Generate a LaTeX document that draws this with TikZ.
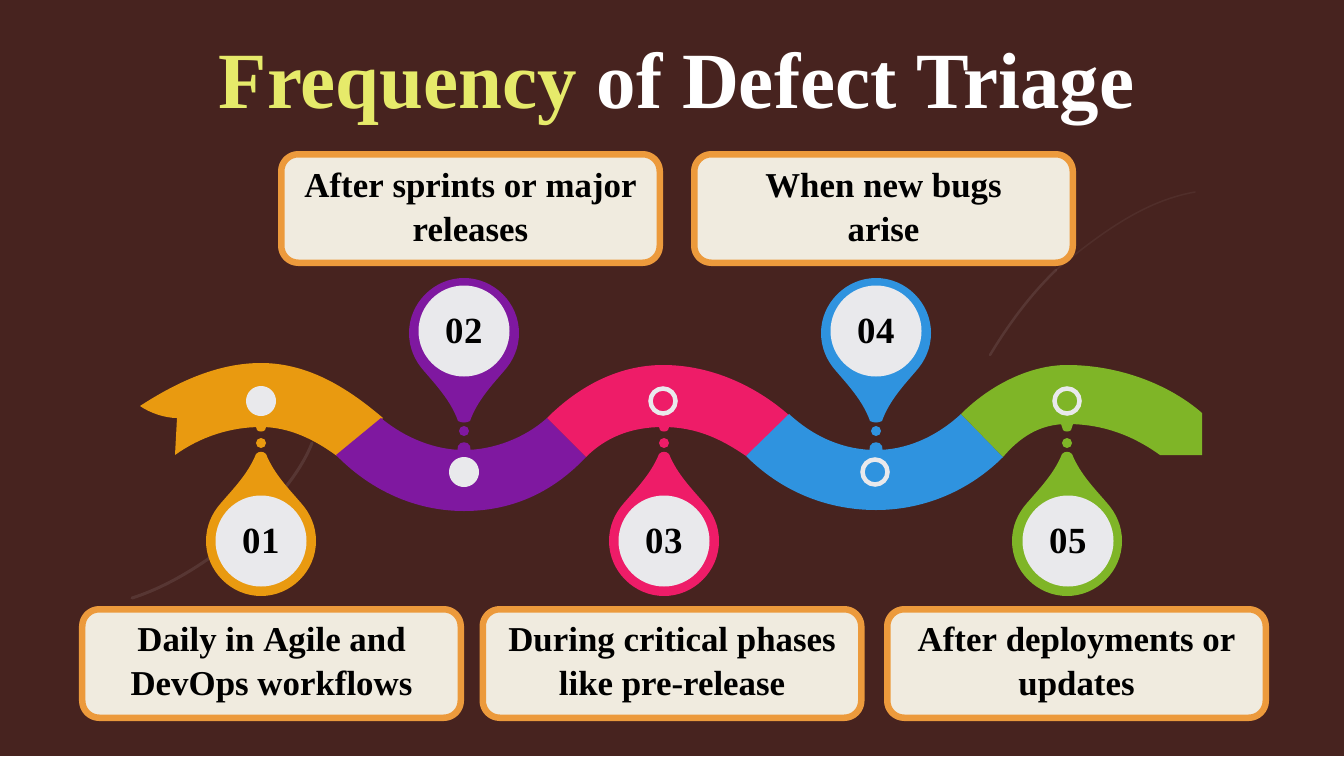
\documentclass[tikz,border=0pt]{standalone}
\usepackage{fontspec}
\setmainfont{Liberation Serif}
\newfontfamily\titlefont[FakeStretch=0.99]{Liberation Serif}
\definecolor{bgc}{HTML}{47231F}
\definecolor{orangeC}{HTML}{E99A10}
\definecolor{purpleC}{HTML}{7F18A0}
\definecolor{pinkC}{HTML}{EE1C68}
\definecolor{blueC}{HTML}{2F93DF}
\definecolor{greenC}{HTML}{7FB527}
\definecolor{diskC}{HTML}{E9E9EC}
\definecolor{boxC}{HTML}{F0EBDF}
\definecolor{edgeC}{HTML}{EC9A3C}
\definecolor{titleY}{HTML}{E6EA6A}
\tikzset{
  x=1bp,y=-1bp,
  infobox/.style={draw=edgeC,line width=6.5bp,fill=boxC,rounded corners=17bp,minimum width=378.5bp,minimum height=108.5bp,inner sep=0pt},
  boxtext/.style={inner sep=0pt,align=center,font=\fontsize{35}{44}\selectfont\bfseries,text=black},
  numdisk/.style={circle,fill=diskC,minimum size=91bp,inner sep=0pt,font=\fontsize{37}{37}\selectfont\bfseries,text=black},
  streak/.style={draw=white,opacity=.09,line cap=round}
}
\begin{document}
\begin{tikzpicture}
\useasboundingbox (0,0) rectangle (1344,756);
\fill[bgc] (0,0) rectangle (1344,756);
% faint background streaks
\draw[streak,line width=3bp] (132,598) .. controls (205,575) and (290,500) .. (312,443);
\draw[streak,line width=2.5bp] (990,355) .. controls (1008,325) and (1030,295) .. (1056,270);
\draw[streak,line width=1.5bp,opacity=.05] (1056,270) .. controls (1110,225) and (1150,200) .. (1195,192);

% ribbon
\fill[orangeC] (140,406) .. controls (180,380) and (220,363) .. (261,363)
  .. controls (310,363) and (350,390) .. (383,418)
  -- (337,456) .. controls (315,440) and (290,427) .. (261,427)
  .. controls (230,427) and (200,437) .. (175,455)
  -- (177,418) .. controls (165,418) and (150,413) .. (140,406) -- cycle;
\fill[purpleC] (381,418) .. controls (405,438) and (435,450) .. (464,450)
  .. controls (493,450) and (525,438) .. (547,418)
  -- (586,457) .. controls (555,490) and (515,511) .. (464,511)
  .. controls (415,511) and (370,490) .. (336,455) -- cycle;
\fill[pinkC] (547,418) .. controls (580,385) and (620,365) .. (663,365)
  .. controls (710,365) and (755,385) .. (790,416)
  -- (746,456) .. controls (720,438) and (695,427) .. (663,427)
  .. controls (630,427) and (605,438) .. (586,457) -- cycle;
\fill[blueC] (789,414) .. controls (815,438) and (845,450) .. (876,450)
  .. controls (905,450) and (935,438) .. (961,414)
  -- (1003,457) .. controls (970,490) and (925,510) .. (876,510)
  .. controls (825,510) and (780,490) .. (746,456) -- cycle;
\fill[greenC] (961,414) .. controls (990,385) and (1030,365) .. (1067,365)
  .. controls (1120,365) and (1170,385) .. (1202,413)
  -- (1202,455) -- (1160,455)
  .. controls (1135,437) and (1105,424) .. (1067,424)
  .. controls (1040,424) and (1020,437) .. (1003,457) -- cycle;

% lower pins
\foreach \px/\pc in {261/orangeC,664/pinkC,1067/greenC}{
  \fill[\pc] (\px-5,454) .. controls (\px-2,451) and (\px+2,451) .. (\px+5,454)
    .. controls (\px+13,474) and (\px+28,489) .. (\px+40,503)
    .. controls (\px+49,513) and (\px+55,526) .. (\px+55,541)
    .. controls (\px+55,571) and (\px+30,596) .. (\px,596)
    .. controls (\px-30,596) and (\px-55,571) .. (\px-55,541)
    .. controls (\px-55,526) and (\px-49,513) .. (\px-40,503)
    .. controls (\px-28,489) and (\px-13,474) .. (\px-5,454) -- cycle;
  \fill[\pc] (\px,443) circle[radius=5bp];
  \fill[\pc] (\px-6,424) -- (\px+6,424) -- (\px+4,430) .. controls (\px+3,432) and (\px-3,432) .. (\px-4,430) -- cycle;
}
% upper pins
\foreach \px/\pc in {464/purpleC,876/blueC}{
  \fill[\pc] (\px-6,421) .. controls (\px-2,423) and (\px+2,423) .. (\px+6,421)
    .. controls (\px+13,401) and (\px+28,385) .. (\px+40,371)
    .. controls (\px+49,361) and (\px+55,348) .. (\px+55,333)
    .. controls (\px+55,303) and (\px+30,278) .. (\px,278)
    .. controls (\px-30,278) and (\px-55,303) .. (\px-55,333)
    .. controls (\px-55,348) and (\px-49,361) .. (\px-40,371)
    .. controls (\px-28,385) and (\px-13,401) .. (\px-6,421) -- cycle;
  \fill[\pc] (\px,431) circle[radius=5bp];
  \fill[\pc] (\px-7,453) -- (\px-6,446) .. controls (\px-4,441) and (\px+4,441) .. (\px+6,446) -- (\px+7,453) -- cycle;
}

% ribbon markers
\fill[diskC] (261,401) circle[radius=15bp];
\fill[diskC] (464,472) circle[radius=15bp];
\draw[diskC,line width=4.5bp] (663,401) circle[radius=12.5bp];
\draw[diskC,line width=4.5bp] (875,472) circle[radius=12.5bp];
\draw[diskC,line width=4.5bp] (1067,401) circle[radius=12.5bp];

% number disks
\node[numdisk] (n1) at (261,541) {01};
\node[numdisk] (n2) at (464,331) {02};
\node[numdisk] (n3) at (664,541) {03};
\node[numdisk] (n4) at (876,331) {04};
\node[numdisk] (n5) at (1068,541) {05};

% boxes
\node[infobox] (b1) at (271.5,663.5) {};
\node[infobox] (b2) at (470.5,208.5) {};
\node[infobox] (b3) at (672,663.5) {};
\node[infobox] (b4) at (883.5,208.5) {};
\node[infobox] (b5) at (1076.5,663.5) {};
\node[boxtext,yshift=-1.5bp] (t1) at (b1) {Daily in Agile and\\DevOps workflows};
\node[boxtext,yshift=1bp] (t2) at (b2) {After sprints or major\\releases};
\node[boxtext,yshift=-1.5bp] (t3) at (b3) {During critical phases\\like pre-release};
\node[boxtext,yshift=1bp] (t4) at (b4) {When new bugs\\arise};
\node[boxtext,yshift=-1.5bp] (t5) at (b5) {After deployments or\\updates};

% title
\node[font=\titlefont\fontsize{80}{80}\selectfont\bfseries,anchor=base,inner sep=0pt] (title) at (676.5,108)
  {\textcolor{titleY}{Frequency} \textcolor{white}{of Defect Triage}};
\end{tikzpicture}
\end{document}
